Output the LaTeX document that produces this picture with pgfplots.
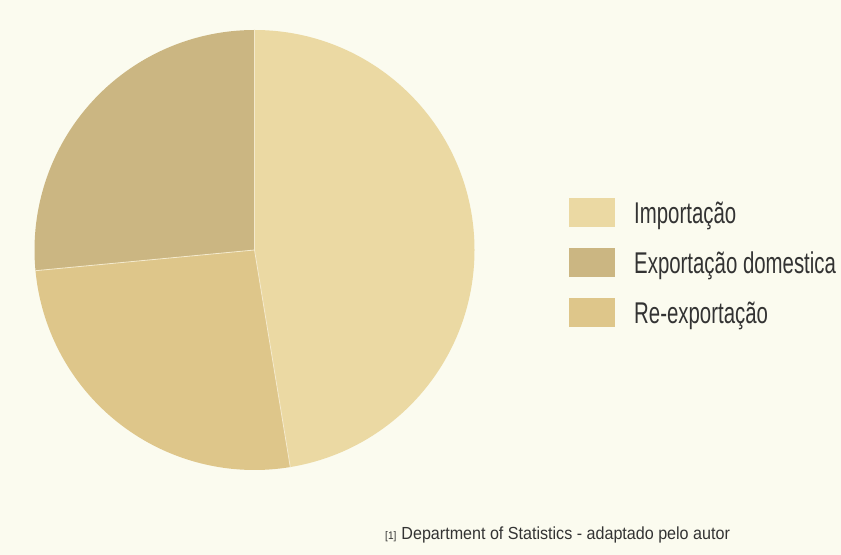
\documentclass[border=0pt]{standalone}
\usepackage{pgfplots}
\pgfplotsset{compat=1.18}
\usepackage{pgfplotstable}
\usepackage{fontspec}
\setmainfont{Liberation Sans}[FakeStretch=0.68]
\newfontfamily\notefont{Liberation Sans}[FakeStretch=0.92]
\definecolor{bg}{HTML}{FBFBEF}
\definecolor{cImp}{HTML}{EBD9A3}
\definecolor{cExp}{HTML}{CBB682}
\definecolor{cRe}{HTML}{DEC68A}
\definecolor{txt}{HTML}{333333}
\pgfplotstableread[col sep=comma]{
label,value
Importacao,47.4
Reexportacao,26.1
Exportacaodomestica,26.5
}\piedata
\begin{document}
\begin{tikzpicture}
\fill[bg] (0,0) rectangle (841bp,555bp);
\begin{axis}[
  at={(0,0)}, anchor=south west,
  width=841bp, height=555bp, scale only axis,
  xmin=0, xmax=841, ymin=0, ymax=555,
  hide axis, clip=false,
  legend style={at={(axis cs:566,292)}, anchor=west, draw=none, fill=none,
    font=\fontsize{30bp}{30bp}\selectfont, text=txt,
    nodes={inner sep=0pt, minimum height=50bp},
    /tikz/every odd column/.append style={column sep=19bp}},
  legend cell align=left,
  legend image code/.code={\fill[#1] (0bp,-14.5bp) rectangle (46bp,14.5bp);},
]
\pgfplotstablegetelem{0}{value}\of\piedata \let\vA\pgfplotsretval
\pgfplotstablegetelem{1}{value}\of\piedata \let\vB\pgfplotsretval
\pgfplotstablegetelem{2}{value}\of\piedata \let\vC\pgfplotsretval
\pgfmathsetmacro{\aA}{90}
\pgfmathsetmacro{\aB}{90-3.6*\vA}
\pgfmathsetmacro{\aC}{\aB-3.6*\vB}
\pgfmathsetmacro{\aD}{\aC-3.6*\vC}
\fill[cImp] (axis cs:254.5,305) -- ++(\aA:220bp) arc[start angle=\aA, end angle=\aB, radius=220bp] -- cycle;
\fill[cRe] (axis cs:254.5,305) -- ++(\aB:220bp) arc[start angle=\aB, end angle=\aC, radius=220bp] -- cycle;
\fill[cExp] (axis cs:254.5,305) -- ++(\aC:220bp) arc[start angle=\aC, end angle=\aD, radius=220bp] -- cycle;
\draw[white!45!cImp, line width=0.8bp] (axis cs:254.5,305) -- ++(\aA:220bp);
\draw[white!45!cImp, line width=0.8bp] (axis cs:254.5,305) -- ++(\aB:220bp);
\draw[white!45!cImp, line width=0.8bp] (axis cs:254.5,305) -- ++(\aC:220bp);
\addlegendimage{fill=cImp, draw=none}
\addlegendentry{Importação}
\addlegendimage{fill=cExp, draw=none}
\addlegendentry{Exportação domestica}
\addlegendimage{fill=cRe, draw=none}
\addlegendentry{Re-exportação}
\node[anchor=base west, inner sep=0pt, text=txt] at (axis cs:385,15) {{\notefont\fontsize{11bp}{11bp}\selectfont[1]}\hspace{5bp}{\notefont\fontsize{17.5bp}{18bp}\selectfont Department of Statistics - adaptado pelo autor}};
\end{axis}
\end{tikzpicture}
\end{document}
